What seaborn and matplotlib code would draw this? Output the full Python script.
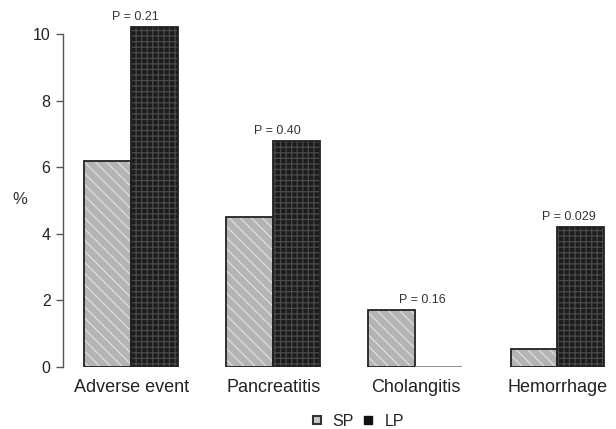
import matplotlib
matplotlib.use("Agg")
import matplotlib.pyplot as plt
import seaborn as sns
import pandas as pd
from matplotlib.lines import Line2D

categories = ["Adverse event", "Pancreatitis", "Cholangitis", "Hemorrhage"]
sp_values = [6.2, 4.5, 1.7, 0.55]
lp_values = [10.2, 6.8, 0.0, 4.2]
p_labels = ["P = 0.21", "P = 0.40", "P = 0.16", "P = 0.029"]
groups = ["SP", "LP"]
y_ticks = [0, 2, 4, 6, 8, 10]

sns.set_theme(style="white")
plt.rcParams["font.family"] = ["Liberation Sans", "DejaVu Sans"]
plt.rcParams["hatch.linewidth"] = 0.9

df = pd.DataFrame({
    "category": categories * 2,
    "group": [groups[0]] * len(categories) + [groups[1]] * len(categories),
    "value": sp_values + lp_values,
})

fig = plt.figure(figsize=(6.16, 4.29), dpi=100)
ax = fig.add_axes([63 / 616, 62 / 429, (610 - 63) / 616, (367 - 10) / 429])

face = {"SP": "#b4b4b4", "LP": "#1c1c1c"}
sns.barplot(data=df, x="category", y="value", hue="group", hue_order=groups,
            palette=face, width=0.66, ax=ax, legend=False, saturation=1)

hatch_style = [("\\\\\\", "#dedede"), ("+++", "#4a4a4a")]
for cont, (h, hc) in zip(ax.containers, hatch_style):
    for bar in cont:
        bar.set_hatch(h)
        bar.set_edgecolor(hc)
        bar.set_linewidth(0)

# outlines on top
sns.barplot(data=df, x="category", y="value", hue="group", hue_order=groups,
            width=0.66, ax=ax, legend=False, fill=False, color="#1a1a1a")
for cont in ax.containers[2:]:
    for bar in cont:
        bar.set_edgecolor("#222222")
        bar.set_linewidth(1.3)
        bar.set_facecolor("none")
for bar in ax.containers[3]:
    if bar.get_height() == 0:
        bar.set_edgecolor("#888888")

# P-value annotations
x_shift = [0.03, 0.03, 0.05, 0.08]
for i, (lab, a, b) in enumerate(zip(p_labels, sp_values, lp_values)):
    top = max(a, b)
    ax.text(i + x_shift[i], top + 0.12, lab, ha="center", va="bottom",
            fontsize=9, color="#333333")

ax.set_ylim(0, (367 - 10) / 33.3)
ax.set_xlim(-0.48, 3.37)
ax.set_yticks(y_ticks)
ax.set_xlabel("")
ax.set_ylabel("%", rotation=0, fontsize=12, color="#333333", va="center", ha="center")
ax.yaxis.set_label_coords(-0.079, 0.47)

for s in ["top", "right", "bottom"]:
    ax.spines[s].set_visible(False)
ax.spines["left"].set_color("#555555")
ax.spines["left"].set_linewidth(1.0)
ax.spines["left"].set_bounds(0, 10)
ax.tick_params(axis="y", left=True, length=5, width=1, color="#555555",
               labelsize=11.5, labelcolor="#222222", pad=4)
ax.tick_params(axis="x", bottom=False, labelsize=13, labelcolor="#222222", pad=3)

handles = [
    Line2D([], [], marker="s", linestyle="none", markersize=5.5,
           markerfacecolor="#c8c8c8", markeredgecolor="#333333", markeredgewidth=1.5),
    Line2D([], [], marker="s", linestyle="none", markersize=5.5,
           markerfacecolor="#111111", markeredgecolor="#111111"),
]
fig.legend(handles, groups, loc="center", bbox_to_anchor=(357 / 616, 1 - 421 / 429),
           ncol=2, frameon=False, fontsize=11.5, handletextpad=0.6, columnspacing=0.5,
           handlelength=0.8, labelcolor="#222222", borderpad=0)

fig.savefig("out.png", dpi=100)
